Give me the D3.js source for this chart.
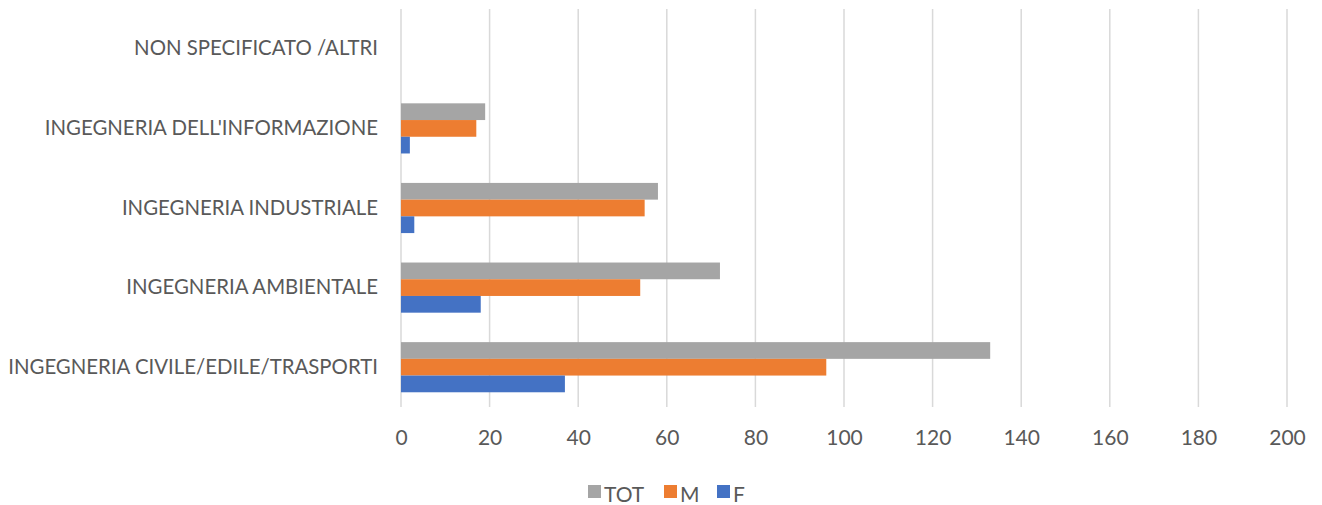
<!DOCTYPE html>
<html>
<head>
<meta charset="utf-8">
<script src="https://cdn.jsdelivr.net/npm/d3@7"></script>
<style>
  body { margin: 0; background: #fff; }
  svg { display: block; font-family: Lato, "Open Sans", sans-serif; }
</style>
</head>
<body>
<svg id="chart" width="1322" height="505"></svg>
<script>
const categories = [
    "NON SPECIFICATO /ALTRI",
    "INGEGNERIA DELL'INFORMAZIONE",
    "INGEGNERIA INDUSTRIALE",
    "INGEGNERIA AMBIENTALE",
    "INGEGNERIA CIVILE/EDILE/TRASPORTI",
];
const tot_values = [0, 19, 58, 72, 133];
const m_values = [0, 17, 55, 54, 96];
const f_values = [0, 2, 3, 18, 37];
const x_ticks = [0, 20, 40, 60, 80, 100, 120, 140, 160, 180, 200];

const series_names = ["TOT", "M", "F"];
const series_values = {
    TOT: tot_values,
    M: m_values,
    F: f_values,
};
const grey_color_code = "#A5A5A5";
const orange_color_code = "#ED7D31";
const blue_color_code = "#4472C4";
const series_color_dict = {
    TOT: grey_color_code,
    M: orange_color_code,
    F: blue_color_code,
};
const text_color = "#595959";
const font_name = "Lato, Open Sans, sans-serif";

const svg = d3.select("#chart");
const plot_left = 401;
const plot_right = 1287;
const plot_top = 9;
const plot_bottom = 407;

const x = d3.scaleLinear().domain([0, 200]).range([plot_left, plot_right]);
const y = d3
    .scaleBand()
    .domain(categories)
    .range([plot_top, plot_bottom])
    .paddingInner(0.37)
    .paddingOuter(0.185);
const y_inner = d3
    .scaleBand()
    .domain(series_names)
    .range([0, y.bandwidth()]);

// gridlines
svg.append("g")
    .selectAll("line")
    .data(x_ticks)
    .join("line")
    .attr("x1", (d) => x(d))
    .attr("x2", (d) => x(d))
    .attr("y1", plot_top)
    .attr("y2", plot_bottom)
    .attr("stroke", "#D9D9D9")
    .attr("stroke-width", 1.5);

// bars
const groups = svg
    .append("g")
    .selectAll("g")
    .data(categories)
    .join("g")
    .attr("transform", (d) => `translate(0,${y(d)})`);

groups
    .selectAll("rect")
    .data((cat, i) => series_names.map((s) => ({ s: s, v: series_values[s][i] })))
    .join("rect")
    .attr("x", x(0))
    .attr("y", (d) => y_inner(d.s))
    .attr("width", (d) => x(d.v) - x(0))
    .attr("height", y_inner.bandwidth())
    .attr("fill", (d) => series_color_dict[d.s]);

// x axis labels
const x_axis = svg
    .append("g")
    .attr("transform", `translate(0,${plot_bottom})`)
    .call(d3.axisBottom(x).tickValues(x_ticks).tickSize(0).tickPadding(23));
x_axis.select(".domain").remove();
x_axis
    .selectAll("text")
    .attr("font-size", 21)
    .attr("fill", text_color)
    .attr("font-family", font_name);

// y axis labels
const y_axis = svg
    .append("g")
    .attr("transform", `translate(${plot_left},0)`)
    .call(d3.axisLeft(y).tickSize(0).tickPadding(23));
y_axis.select(".domain").remove();
y_axis
    .selectAll("text")
    .attr("font-size", 20.4)
    .attr("fill", text_color)
    .attr("font-family", font_name);

// legend
const legend_items = [
    { s: "TOT", x: 588 },
    { s: "M", x: 664 },
    { s: "F", x: 717 },
];
const legend = svg.append("g").attr("transform", "translate(0,492)");
legend
    .selectAll("rect")
    .data(legend_items)
    .join("rect")
    .attr("x", (d) => d.x)
    .attr("y", -7)
    .attr("width", 13)
    .attr("height", 13)
    .attr("fill", (d) => series_color_dict[d.s]);
legend
    .selectAll("text")
    .data(legend_items)
    .join("text")
    .attr("x", (d) => d.x + 16)
    .attr("y", 1)
    .attr("dominant-baseline", "central")
    .attr("font-size", 21)
    .attr("font-family", font_name)
    .attr("fill", text_color)
    .text((d) => d.s);
</script>
</body>
</html>
